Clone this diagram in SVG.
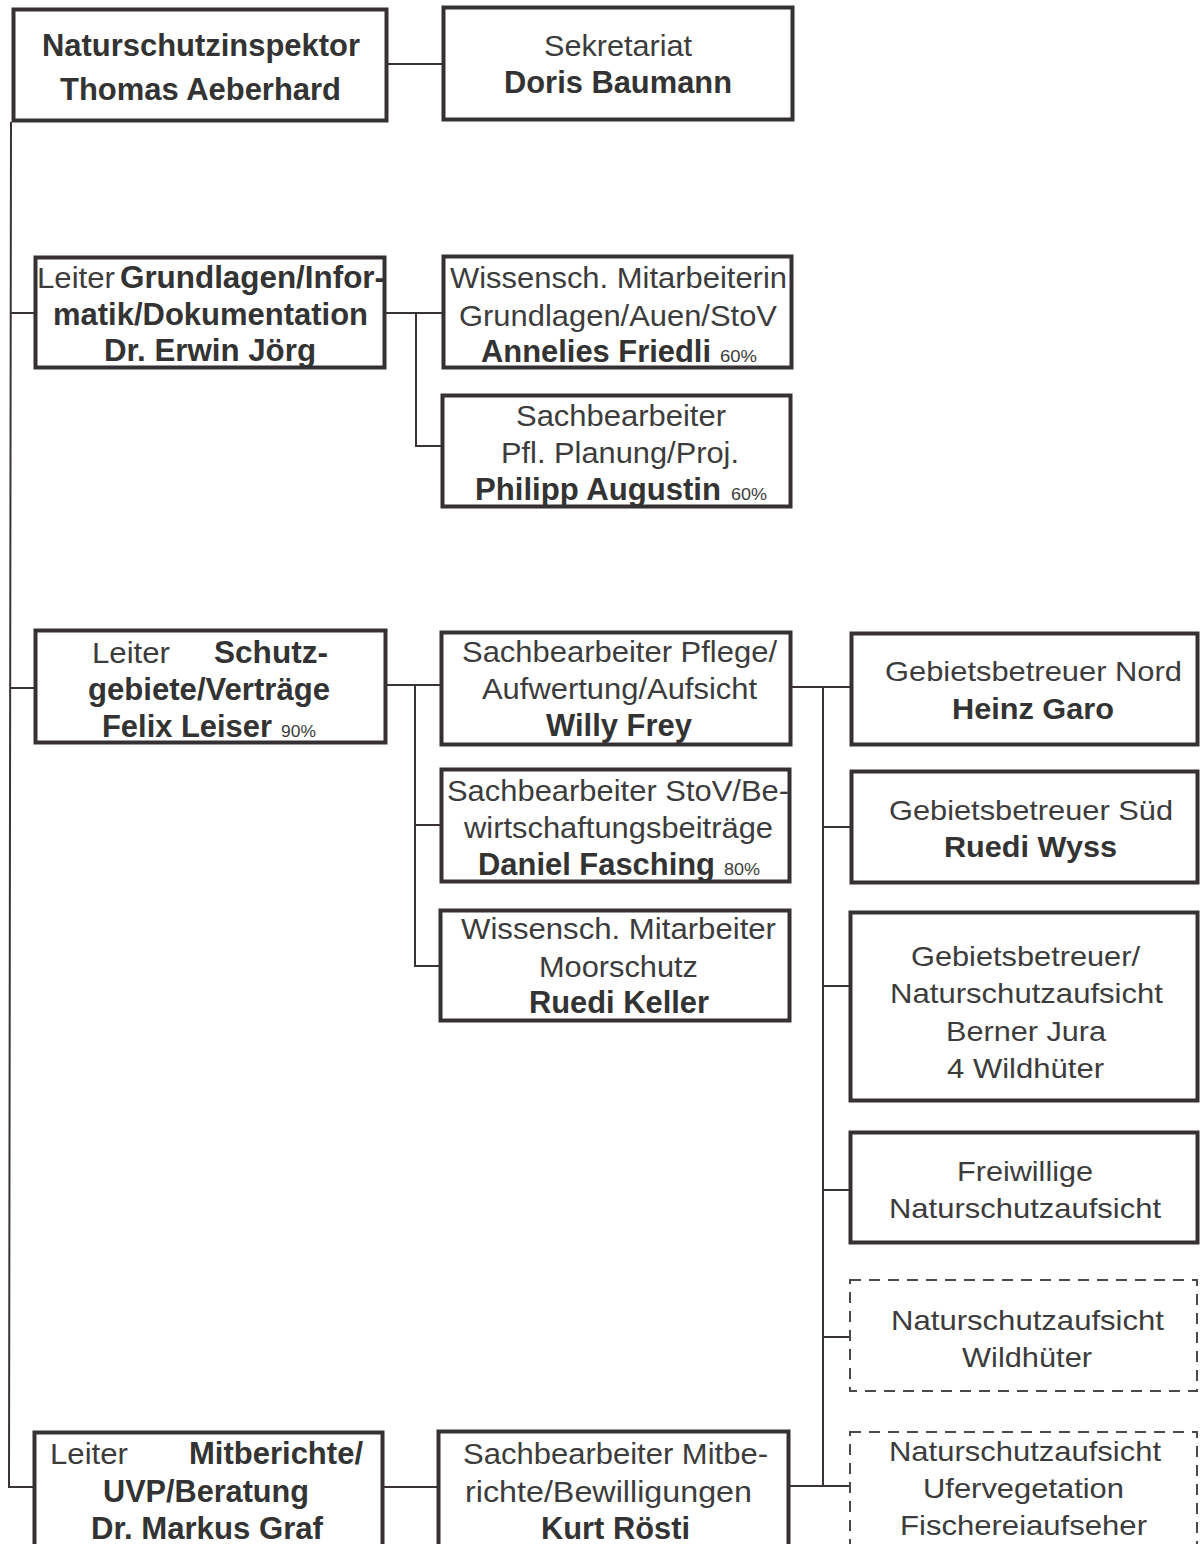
<svg xmlns="http://www.w3.org/2000/svg" width="1200" height="1544" viewBox="0 0 1200 1544">
<style>
.box{fill:#fff;stroke:#353033;stroke-width:4}
.dash{fill:#fff;stroke:#4a4a4a;stroke-width:2;stroke-dasharray:11 8}
.conn{fill:none;stroke:#3a3335;stroke-width:2}
text{font-family:"Liberation Sans",Arial,sans-serif;font-size:30px;fill:#3c3c3c}
.b{font-weight:bold;fill:#333;font-size:31px}
.r{font-size:28px}
.rb{font-weight:bold;fill:#333;font-size:29px}
.s{font-size:16px}
.big{font-size:31px}
</style>
<rect width="1200" height="1544" fill="#fff"/>
<g id="connectors">
<path class="conn" d="M388 64H442"/>
<path class="conn" d="M11 122L9 1487H34"/>
<path class="conn" d="M10 313H35M10 688H35"/>
<path class="conn" d="M386 313H442M416 313V446H441"/>
<path class="conn" d="M387 685H440M415 685V966H439M415 825H440"/>
<path class="conn" d="M792 687H850M823 687V1486M823 827H850M823 986H849M823 1190H849M823 1337H849M790 1486H849"/>
<path class="conn" d="M384 1487H437"/>
</g>
<g id="n1"><rect class="box" x="13.5" y="9.5" width="373" height="111"/>
<text class="b big" x="42" y="56" textLength="318" lengthAdjust="spacingAndGlyphs">Naturschutzinspektor</text>
<text class="b big" x="60" y="100" textLength="281" lengthAdjust="spacingAndGlyphs">Thomas Aeberhard</text></g>
<g id="n2"><rect class="box" x="443.5" y="7.5" width="349" height="112"/>
<text x="544" y="56" textLength="148" lengthAdjust="spacingAndGlyphs">Sekretariat</text>
<text class="b" x="504" y="93" textLength="228" lengthAdjust="spacingAndGlyphs">Doris Baumann</text></g>
<g id="n3"><rect class="box" x="35.5" y="257.5" width="349" height="110"/>
<text x="37" y="288" textLength="78" lengthAdjust="spacingAndGlyphs">Leiter</text>
<text class="b" x="120" y="288" textLength="265" lengthAdjust="spacingAndGlyphs">Grundlagen/Infor-</text>
<text class="b" x="53" y="325" textLength="315" lengthAdjust="spacingAndGlyphs">matik/Dokumentation</text>
<text class="b" x="104" y="361" textLength="212" lengthAdjust="spacingAndGlyphs">Dr. Erwin Jörg</text></g>
<g id="n4"><rect class="box" x="443.5" y="256.5" width="348" height="111"/>
<text x="450" y="288" textLength="337" lengthAdjust="spacingAndGlyphs">Wissensch. Mitarbeiterin</text>
<text x="459" y="326" textLength="318" lengthAdjust="spacingAndGlyphs">Grundlagen/Auen/StoV</text>
<text class="b" x="481" y="362" textLength="230" lengthAdjust="spacingAndGlyphs">Annelies Friedli</text>
<text class="s" x="720" y="362" textLength="37" lengthAdjust="spacingAndGlyphs">60%</text></g>
<g id="n5"><rect class="box" x="442.5" y="395.5" width="348" height="111"/>
<text x="516" y="426" textLength="210" lengthAdjust="spacingAndGlyphs">Sachbearbeiter</text>
<text x="501" y="463" textLength="238" lengthAdjust="spacingAndGlyphs">Pfl. Planung/Proj.</text>
<text class="b" x="475" y="500" textLength="246" lengthAdjust="spacingAndGlyphs">Philipp Augustin</text>
<text class="s" x="731" y="500" textLength="36" lengthAdjust="spacingAndGlyphs">60%</text></g>
<g id="n6"><rect class="box" x="35.5" y="630.5" width="350" height="112"/>
<text x="92" y="663" textLength="78" lengthAdjust="spacingAndGlyphs">Leiter</text>
<text class="b" x="214" y="663" textLength="114" lengthAdjust="spacingAndGlyphs">Schutz-</text>
<text class="b" x="88" y="700" textLength="242" lengthAdjust="spacingAndGlyphs">gebiete/Verträge</text>
<text class="b" x="102" y="737" textLength="170" lengthAdjust="spacingAndGlyphs">Felix Leiser</text>
<text class="s" x="281" y="737" textLength="35" lengthAdjust="spacingAndGlyphs">90%</text></g>
<g id="n7"><rect class="box" x="441.5" y="632.5" width="349" height="112"/>
<text x="462" y="662" textLength="315" lengthAdjust="spacingAndGlyphs">Sachbearbeiter Pflege/</text>
<text x="482" y="699" textLength="275" lengthAdjust="spacingAndGlyphs">Aufwertung/Aufsicht</text>
<text class="b" x="546" y="736" textLength="146" lengthAdjust="spacingAndGlyphs">Willy Frey</text></g>
<g id="n8"><rect class="box" x="441.5" y="769.5" width="348" height="112"/>
<text x="447" y="801" textLength="342" lengthAdjust="spacingAndGlyphs">Sachbearbeiter StoV/Be-</text>
<text x="464" y="838" textLength="309" lengthAdjust="spacingAndGlyphs">wirtschaftungsbeiträge</text>
<text class="b" x="478" y="875" textLength="237" lengthAdjust="spacingAndGlyphs">Daniel Fasching</text>
<text class="s" x="724" y="875" textLength="36" lengthAdjust="spacingAndGlyphs">80%</text></g>
<g id="n9"><rect class="box" x="440.5" y="910.5" width="349" height="110"/>
<text x="461" y="939" textLength="315" lengthAdjust="spacingAndGlyphs">Wissensch. Mitarbeiter</text>
<text x="539" y="977" textLength="159" lengthAdjust="spacingAndGlyphs">Moorschutz</text>
<text class="b" x="529" y="1013" textLength="180" lengthAdjust="spacingAndGlyphs">Ruedi Keller</text></g>
<g id="n10"><rect class="box" x="851.5" y="633.5" width="346" height="111"/>
<text class="r" x="885" y="681" textLength="297" lengthAdjust="spacingAndGlyphs">Gebietsbetreuer Nord</text>
<text class="rb" x="952" y="719" textLength="162" lengthAdjust="spacingAndGlyphs">Heinz Garo</text></g>
<g id="n11"><rect class="box" x="851.5" y="771.5" width="346" height="111"/>
<text class="r" x="889" y="820" textLength="284" lengthAdjust="spacingAndGlyphs">Gebietsbetreuer Süd</text>
<text class="rb" x="944" y="857" textLength="173" lengthAdjust="spacingAndGlyphs">Ruedi Wyss</text></g>
<g id="n12"><rect class="box" x="850.5" y="912.5" width="347" height="188"/>
<text class="r" x="911" y="966" textLength="229" lengthAdjust="spacingAndGlyphs">Gebietsbetreuer/</text>
<text class="r" x="890" y="1003" textLength="273" lengthAdjust="spacingAndGlyphs">Naturschutzaufsicht</text>
<text class="r" x="946" y="1041" textLength="160" lengthAdjust="spacingAndGlyphs">Berner Jura</text>
<text class="r" x="947" y="1078" textLength="157" lengthAdjust="spacingAndGlyphs">4 Wildhüter</text></g>
<g id="n13"><rect class="box" x="850.5" y="1132.5" width="347" height="110"/>
<text class="r" x="957" y="1181" textLength="136" lengthAdjust="spacingAndGlyphs">Freiwillige</text>
<text class="r" x="889" y="1218" textLength="272" lengthAdjust="spacingAndGlyphs">Naturschutzaufsicht</text></g>
<g id="n14"><rect class="dash" x="850" y="1280" width="347" height="111"/>
<text class="r" x="891" y="1330" textLength="273" lengthAdjust="spacingAndGlyphs">Naturschutzaufsicht</text>
<text class="r" x="962" y="1367" textLength="130" lengthAdjust="spacingAndGlyphs">Wildhüter</text></g>
<g id="n15"><rect class="dash" x="850" y="1432" width="347" height="130"/>
<text class="r" x="889" y="1461" textLength="272" lengthAdjust="spacingAndGlyphs">Naturschutzaufsicht</text>
<text class="r" x="923" y="1498" textLength="201" lengthAdjust="spacingAndGlyphs">Ufervegetation</text>
<text class="r" x="900" y="1535" textLength="247" lengthAdjust="spacingAndGlyphs">Fischereiaufseher</text></g>
<g id="n16"><rect class="box" x="34.5" y="1432.5" width="348" height="130"/>
<text x="50" y="1464" textLength="78" lengthAdjust="spacingAndGlyphs">Leiter</text>
<text class="b" x="189" y="1464" textLength="174" lengthAdjust="spacingAndGlyphs">Mitberichte/</text>
<text class="b" x="103" y="1502" textLength="206" lengthAdjust="spacingAndGlyphs">UVP/Beratung</text>
<text class="b" x="91" y="1539" textLength="232" lengthAdjust="spacingAndGlyphs">Dr. Markus Graf</text></g>
<g id="n17"><rect class="box" x="438.5" y="1431.5" width="350" height="130"/>
<text x="463" y="1464" textLength="305" lengthAdjust="spacingAndGlyphs">Sachbearbeiter Mitbe-</text>
<text x="465" y="1502" textLength="287" lengthAdjust="spacingAndGlyphs">richte/Bewilligungen</text>
<text class="b" x="541" y="1539" textLength="149" lengthAdjust="spacingAndGlyphs">Kurt Rösti</text></g>
</svg>
